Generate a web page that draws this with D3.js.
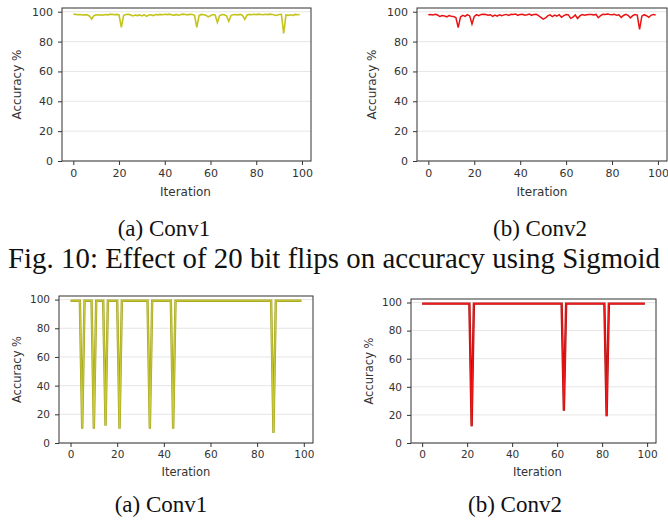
<!DOCTYPE html>
<html>
<head>
<meta charset="utf-8">
<script src="https://d3js.org/d3.v7.min.js"></script>
<style>
  body { margin: 0; background: #fff; }
  svg { display: block; }
  .tick text { font-family: "DejaVu Sans", sans-serif; fill: #333; }
  .axlabel { font-family: "DejaVu Sans", sans-serif; fill: #333; }
  .cap { font-family: "Liberation Serif", "Times New Roman", serif; fill: #111; }
</style>
</head>
<body>
<div id="chart"></div>
<script>
// iterations 0..99
var iterations = d3.range(0, 100);
var yTicks = [0, 20, 40, 60, 80, 100];
var xTicks = [0, 20, 40, 60, 80, 100];

// Fig. 10 (20 bit flips, Sigmoid)
var conv1Sigmoid = [
  98.3, 98.2, 98.0, 98.1, 97.8, 98.0, 97.9, 97.2, 95.0, 97.3,
  97.9, 97.8, 98.0, 97.7, 98.1, 97.9, 98.2, 98.3, 98.0, 98.2,
  97.8, 89.5, 97.6, 98.2, 98.3, 97.9, 97.2, 97.8, 97.4, 97.9,
  97.2, 98.0, 96.9, 97.8, 98.0, 97.4, 98.1, 97.9, 98.2, 98.0,
  98.3, 98.1, 98.4, 98.0, 97.6, 98.2, 97.5, 98.1, 98.4, 98.2,
  97.9, 98.3, 98.1, 97.6, 89.5, 97.4, 98.2, 98.0, 97.6, 96.6,
  97.3, 98.1, 97.8, 92.9, 97.4, 98.1, 98.0, 97.2, 93.5, 97.6,
  98.0, 98.1, 97.9, 98.2, 97.6, 94.9, 97.8, 98.2, 98.0, 98.3,
  98.1, 98.4, 98.2, 98.0, 98.3, 98.1, 98.4, 98.2, 97.8, 97.5,
  98.1, 98.2, 85.5, 97.9, 97.6, 98.0, 97.5, 98.2, 98.0, 98.1
];
var conv2Sigmoid = [
  98.0, 98.2, 97.9, 98.3, 97.8, 96.8, 97.5, 97.2, 96.6, 97.4,
  97.0, 96.8, 96.0, 89.3, 96.5, 97.6, 96.9, 98.1, 97.2, 91.8,
  96.9, 98.0, 97.4, 98.2, 98.3, 98.1, 97.6, 98.0, 96.9, 97.8,
  97.1, 98.0, 97.4, 97.9, 98.2, 97.5, 98.3, 98.1, 98.4, 97.6,
  98.2, 98.3, 97.7, 98.0, 98.4, 97.6, 98.2, 98.3, 97.4, 96.2,
  95.0, 95.8, 97.2, 97.9, 96.8, 97.8, 97.1, 98.0, 96.3, 97.4,
  98.2, 97.9, 95.6, 96.4, 97.8, 95.4, 97.2, 98.1, 97.6, 98.0,
  98.2, 98.1, 97.9, 98.2, 96.0, 97.4, 98.3, 98.2, 98.4, 98.1,
  98.0, 98.3, 97.6, 97.9, 96.2, 97.5, 98.2, 97.6, 95.9, 97.4,
  98.1, 97.8, 88.2, 97.0, 98.0, 97.3, 96.2, 97.6, 98.2, 97.8
];

// second figure (caption cut off)
var conv1Second = [
  99.2, 99.2, 99.2, 99.2, 99.2, 10.0, 99.2, 99.2, 99.2, 99.2,
  10.0, 99.2, 99.2, 99.2, 99.2, 12.0, 99.2, 99.2, 99.2, 99.2,
  99.2, 10.0, 99.2, 99.2, 99.2, 99.2, 99.2, 99.2, 99.2, 99.2,
  99.2, 99.2, 99.2, 99.2, 10.0, 99.2, 99.2, 99.2, 99.2, 99.2,
  99.2, 99.2, 99.2, 99.2, 10.0, 99.2, 99.2, 99.2, 99.2, 99.2,
  99.2, 99.2, 99.2, 99.2, 99.2, 99.2, 99.2, 99.2, 99.2, 99.2,
  99.2, 99.2, 99.2, 99.2, 99.2, 99.2, 99.2, 99.2, 99.2, 99.2,
  99.2, 99.2, 99.2, 99.2, 99.2, 99.2, 99.2, 99.2, 99.2, 99.2,
  99.2, 99.2, 99.2, 99.2, 99.2, 99.2, 99.2,  7.0, 99.2, 99.2,
  99.2, 99.2, 99.2, 99.2, 99.2, 99.2, 99.2, 99.2, 99.2, 99.2
];
var conv2Second = [
  99.2, 99.2, 99.2, 99.2, 99.2, 99.2, 99.2, 99.2, 99.2, 99.2,
  99.2, 99.2, 99.2, 99.2, 99.2, 99.2, 99.2, 99.2, 99.2, 99.2,
  99.2, 99.2, 12.0, 99.2, 99.2, 99.2, 99.2, 99.2, 99.2, 99.2,
  99.2, 99.2, 99.2, 99.2, 99.2, 99.2, 99.2, 99.2, 99.2, 99.2,
  99.2, 99.2, 99.2, 99.2, 99.2, 99.2, 99.2, 99.2, 99.2, 99.2,
  99.2, 99.2, 99.2, 99.2, 99.2, 99.2, 99.2, 99.2, 99.2, 99.2,
  99.2, 99.2, 99.2, 23.0, 99.2, 99.2, 99.2, 99.2, 99.2, 99.2,
  99.2, 99.2, 99.2, 99.2, 99.2, 99.2, 99.2, 99.2, 99.2, 99.2,
  99.2, 99.2, 19.0, 99.2, 99.2, 99.2, 99.2, 99.2, 99.2, 99.2,
  99.2, 99.2, 99.2, 99.2, 99.2, 99.2, 99.2, 99.2, 99.2, 99.2
];

var subCaptions = ["(a) Conv1", "(b) Conv2"];
var figCaption = "Fig. 10: Effect of 20 bit flips on accuracy using Sigmoid";

var W = 668, H = 523;
var svg = d3.select("#chart").append("svg")
    .attr("width", W)
    .attr("height", H);

function drawPanel(p) {
    var x = d3.scaleLinear().domain([-4.95, 103.95]).range([p.left, p.right]);
    var y = d3.scaleLinear().domain([0, 102.5]).range([p.bottom, p.top]);
    var g = svg.append("g");

    // horizontal grid
    g.selectAll(".grid")
        .data(yTicks)
        .enter().append("line")
        .attr("x1", p.left).attr("x2", p.right)
        .attr("y1", function(d) { return y(d); })
        .attr("y2", function(d) { return y(d); })
        .attr("stroke", "#e6e6e6")
        .attr("stroke-width", 1);

    var line = d3.line()
        .x(function(d, i) { return x(iterations[i]); })
        .y(function(d) { return y(d); });

    if (p.outline) {
        g.append("path").datum(p.values)
            .attr("fill", "none").attr("stroke", p.outline)
            .attr("stroke-width", p.width + 1.2)
            .attr("d", line);
    }
    g.append("path").datum(p.values)
        .attr("fill", "none").attr("stroke", p.color)
        .attr("stroke-width", p.width)
        .attr("d", line);

    // frame
    g.append("rect")
        .attr("x", p.left).attr("y", p.top)
        .attr("width", p.right - p.left).attr("height", p.bottom - p.top)
        .attr("fill", "none").attr("stroke", "#333").attr("stroke-width", 1);

    var ax = g.append("g")
        .attr("transform", "translate(0," + p.bottom + ")")
        .call(d3.axisBottom(x).tickValues(xTicks).tickSize(4).tickPadding(4));
    var ay = g.append("g")
        .attr("transform", "translate(" + p.left + ",0)")
        .call(d3.axisLeft(y).tickValues(yTicks).tickSize(4).tickPadding(5));
    [ax, ay].forEach(function(a) {
        a.select(".domain").remove();
        a.selectAll(".tick line").attr("stroke", "#333");
        a.selectAll(".tick text").style("font-size", p.tickFont + "px");
    });

    g.append("text").attr("class", "axlabel")
        .attr("x", (p.left + p.right) / 2 + p.xlabShift)
        .attr("y", p.xlabY)
        .attr("text-anchor", "middle")
        .style("font-size", p.labFont + "px")
        .text("Iteration");
    g.append("text").attr("class", "axlabel")
        .attr("transform", "translate(" + p.ylabX + "," + (p.top + p.bottom) / 2 + ") rotate(-90)")
        .attr("text-anchor", "middle")
        .style("font-size", p.labFont + "px")
        .text("Accuracy %");
}

drawPanel({ values: conv1Sigmoid, color: "#c4c41c", width: 1.6,
    left: 62, right: 311, top: 8, bottom: 161,
    tickFont: 11, labFont: 12, xlabY: 196, xlabShift: -1, ylabX: 21 });
drawPanel({ values: conv2Sigmoid, color: "#e81212", width: 1.5,
    left: 417, right: 667, top: 8, bottom: 161,
    tickFont: 11, labFont: 12, xlabY: 196, xlabShift: 0, ylabX: 376 });
drawPanel({ values: conv1Second, color: "#caca3c", outline: "#a3a31e", width: 1.2,
    left: 59, right: 313, top: 296, bottom: 443,
    tickFont: 10.5, labFont: 11.5, xlabY: 476, xlabShift: 0, ylabX: 21 });
drawPanel({ values: conv2Second, color: "#f01818", outline: "#b80f0f", width: 1.2,
    left: 411, right: 656, top: 299, bottom: 443,
    tickFont: 10.5, labFont: 11.5, xlabY: 476, xlabShift: 4, ylabX: 373 });

// captions
var rows = [
    { y: 236, xs: [164, 540] },
    { y: 512, xs: [161, 515] }
];
rows.forEach(function(row) {
    svg.selectAll(null).data(subCaptions).enter().append("text")
        .attr("class", "cap")
        .attr("x", function(d, i) { return row.xs[i]; })
        .attr("y", row.y)
        .attr("text-anchor", "middle")
        .style("font-size", "23px")
        .text(function(d) { return d; });
});
svg.append("text").attr("class", "cap")
    .attr("x", 8).attr("y", 268)
    .attr("textLength", 652)
    .attr("lengthAdjust", "spacing")
    .style("font-size", "28.8px")
    .text(figCaption);
</script>
</body>
</html>
